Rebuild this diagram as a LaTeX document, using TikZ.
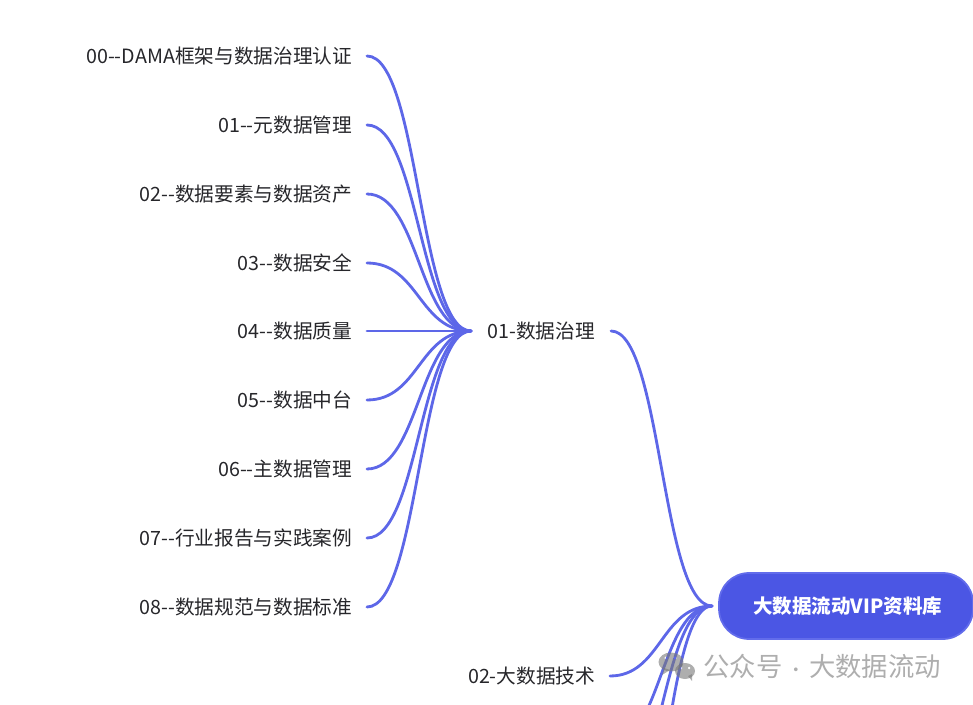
\documentclass[tikz,border=0pt]{standalone}
\usepackage{fontspec}
\setmainfont{Noto Sans CJK SC}
\usepackage{tikz}
\usetikzlibrary{arrows.meta,positioning,calc}
\definecolor{linkcolor}{RGB}{93,103,232}
\definecolor{rootcolor}{RGB}{75,86,228}
\definecolor{rootedge}{RGB}{98,108,235}
\definecolor{leafcolor}{RGB}{38,38,42}
\definecolor{markcolor}{RGB}{120,120,120}
\begin{document}
\begin{tikzpicture}[
      x=0.02cm, y=-0.02cm,
      leaf/.style={anchor=east, inner xsep=0.29cm, inner ysep=2pt, text=leafcolor, font=\fontsize{11.2pt}{13pt}\selectfont},
      hub/.style={anchor=west, inner xsep=0.32cm, inner ysep=2pt, text=leafcolor, font=\fontsize{11.2pt}{13pt}\selectfont},
      rootbox/.style={rectangle, rounded corners=0.6cm, draw=rootedge, line width=1pt, fill=rootcolor,
                  text=white, minimum width=5.08cm, minimum height=1.32cm, font=\fontsize{11.1pt}{13pt}\selectfont\bfseries},
      link/.style={draw=linkcolor, line width=1.6pt, line cap=round,
                  to path={.. controls ($(\tikztostart)!0.5!(\tikztotarget|-\tikztostart)$) and ($(\tikztotarget)!0.5!(\tikztostart|-\tikztotarget)$) .. (\tikztotarget)}}
    ]
    \useasboundingbox (0,0) rectangle (973,705);
    \clip (0,0) rectangle (973,705);
    \node[leaf] (n00) at (367,  56) {00-{}-DAMA框架与数据治理认证};
    \node[leaf] (n01) at (367, 125) {01-{}-元数据管理};
    \node[leaf] (n02) at (367, 194) {02-{}-数据要素与数据资产};
    \node[leaf] (n03) at (367, 263) {03-{}-数据安全};
    \node[leaf] (n04) at (367, 331) {04-{}-数据质量};
    \node[leaf] (n05) at (367, 400) {05-{}-数据中台};
    \node[leaf] (n06) at (367, 469) {06-{}-主数据管理};
    \node[leaf] (n07) at (367, 538) {07-{}-行业报告与实践案例};
    \node[leaf] (n08) at (367, 607) {08-{}-数据规范与数据标准};
    \node[hub] (gov) at (471, 331) {01-数据治理};
    \node[hub, anchor=east, inner xsep=0.29cm] (tech) at (610, 676) {02-大数据技术};
    \node[rootbox] (root) at (846, 606) {\kern2pt大数据流动VIP资料库};
    \coordinate (rootin) at (712,606);
    \coordinate (cut03) at (610,744);
    \coordinate (cut04) at (610,813);
    \coordinate (cut05) at (610,951);
    % leaves into the first hub
    \foreach \n in {n00,n01,n02,n03,n04,n05,n06,n07,n08}{
      \draw[link] (\n.east) to (gov.west);
    }
    \draw[link] (gov.east) to (rootin);
    \draw[link] (tech.east) to (rootin);
    \foreach \n in {cut03,cut04,cut05}{
      \draw[link] (\n) to (rootin);
    }
    % watermark
    \node[anchor=west, inner sep=0pt, text=markcolor, opacity=0.6, font=\fontsize{15pt}{17pt}\selectfont] (mark) at (703,666) {公众号\kern-0.05em{} {\fontsize{10pt}{17pt}\selectfont ·} \kern-0.05em{}大数据流动};
    \begin{scope}[opacity=0.6]
      \fill[markcolor, even odd rule] (671,662) ellipse (12.5 and 9.5) (666,658) circle (1.8) (675,658) circle (1.8);
      \fill[markcolor] (664,668) -- (662,675) -- (670,670) -- cycle;
      \fill[markcolor, even odd rule] (685,671) ellipse (10 and 8) (681,668) circle (1.5) (689,668) circle (1.5);
      \fill[markcolor] (688,676) -- (692,681) -- (692,674) -- cycle;
    \end{scope}
  \end{tikzpicture}
\end{document}
